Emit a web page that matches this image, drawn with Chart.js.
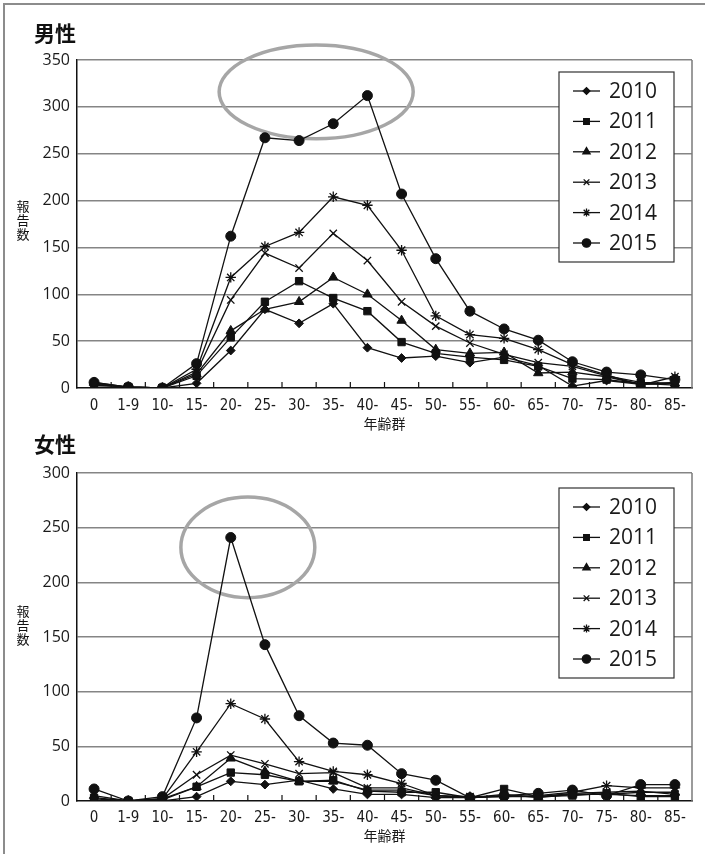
<!DOCTYPE html>
<html><head><meta charset="utf-8">
<script src="https://cdn.jsdelivr.net/npm/chart.js@4.4.1/dist/chart.umd.min.js"></script>
<style>
body{margin:0;background:#fff;}
#wrap{position:relative;width:705px;height:854px;overflow:hidden;background:#fff;}
#frame{position:absolute;left:3px;top:3px;width:760px;height:900px;border-left:2px solid #8c8c8c;border-top:2px solid #8c8c8c;}
.ttl{position:absolute;font-family:"Noto Sans CJK JP",sans-serif;font-weight:700;font-size:21px;line-height:24px;color:#111;}
.ylab{position:absolute;font-family:"Noto Sans CJK JP",sans-serif;font-size:13px;line-height:14px;width:14px;word-break:break-all;text-align:center;color:#111;}
canvas{position:absolute;left:0;}
</style></head>
<body>
<div id="wrap">
<div id="frame"></div>
<canvas id="maleChart" width="705" height="432" style="top:0px"></canvas>
<canvas id="femaleChart" width="705" height="422" style="top:432px"></canvas>
<div class="ttl" style="left:34px;top:20px">男性</div>
<div class="ttl" style="left:34px;top:431px">女性</div>
<div class="ylab" style="left:16px;top:199px">報告数</div>
<div class="ylab" style="left:16px;top:604px">報告数</div>
</div>
<script>
// ---- data ----
const categories = ['0','1-9','10-','15-','20-','25-','30-','35-','40-','45-','50-','55-','60-','65-','70-','75-','80-','85-'];
const years = ['2010','2011','2012','2013','2014','2015'];
const xAxisTitle = '年齢群';

const male2010 = [5,1,0,5,40,84,69,90,43,32,34,27,33,24,2,8,4,6];
const male2011 = [4,1,0,13,54,92,114,96,82,49,37,33,30,23,10,9,5,3];
const male2012 = [6,1,0,15,61,84,92,118,100,72,41,37,38,16,17,12,4,5];
const male2013 = [1,1,0,17,94,144,128,165,136,92,66,48,36,27,23,13,6,5];
const male2014 = [3,1,0,20,118,151,166,204,195,147,77,57,53,41,25,14,3,12];
const male2015 = [6,1,0,26,162,267,264,282,312,207,138,82,63,51,28,17,14,9];

const female2010 = [2,0,0,4,18,15,19,11,6,6,3,3,6,3,6,6,5,5];
const female2011 = [3,0,1,13,26,24,18,19,9,8,8,3,11,4,5,7,4,4];
const female2012 = [5,0,2,13,39,27,18,18,10,10,5,3,5,4,6,6,8,8];
const female2013 = [0,0,2,24,42,34,25,26,12,12,5,3,4,4,7,8,9,6];
const female2014 = [0,0,2,45,89,75,36,27,24,16,5,4,4,5,8,14,12,12];
const female2015 = [11,0,4,76,241,143,78,53,51,25,19,3,5,7,10,5,15,15];

const maleTicksMax = 350;
const femaleTicksMax = 300;
const tickStep = 50;

// highlight ellipses (data units)
const maleHighlight = {cx: 6.5, cy: 316, rx: 2.84, ry: 50};
const femaleHighlight = {cx: 4.5, cy: 232, rx: 1.96, ry: 46};

// ---- styles ----
const pointStyles = ['rectRot','rect','triangle','crossRot','star','circle'];
const pointRadii = [4.4,5.2,5.4,5.2,5.2,5];
const legendRadii = [3.4,4,4.2,4,4,4.2];

function buildDatasets(series){
  return series.map((vals,i)=>({
    label: years[i],
    data: vals,
    borderColor:'#111',
    backgroundColor:'#111',
    borderWidth:1.3,
    pointStyle: pointStyles[i],
    pointRadius: pointRadii[i],
    pointBorderWidth: (pointStyles[i]==='crossRot'||pointStyles[i]==='star')?1.3:1,
    pointBorderColor:'#111',
    pointBackgroundColor:'#111',
    tension:0,
    fill:false
  }));
}

const decorPlugin = {
  id:'decor',
  beforeDatasetsDraw(chart, args, opts){
    const {ctx, chartArea:a} = chart;
    const xs = chart.scales.x, ys = chart.scales.y;
    ctx.save();
    ctx.strokeStyle = '#7a7a7a'; ctx.lineWidth = 1.5;
    ctx.beginPath(); ctx.moveTo(a.right, a.top); ctx.lineTo(a.right, a.bottom); ctx.stroke();
    ctx.strokeStyle = '#111'; ctx.lineWidth = 1.2;
    const n = categories.length;
    for(let i=1;i<n;i++){
      const x = (xs.getPixelForValue(i-1)+xs.getPixelForValue(i))/2;
      ctx.beginPath(); ctx.moveTo(x, a.bottom); ctx.lineTo(x, a.bottom-6); ctx.stroke();
    }
    const h = opts.highlight;
    const cx = xs.getPixelForValue(h.cx), cy = ys.getPixelForValue(h.cy);
    const rx = Math.abs(xs.getPixelForValue(h.cx + h.rx) - cx);
    const ry = Math.abs(ys.getPixelForValue(h.cy + h.ry) - cy);
    ctx.strokeStyle = '#a6a6a6'; ctx.lineWidth = 3.5;
    ctx.beginPath(); ctx.ellipse(cx, cy, rx, ry, 0, 0, Math.PI*2); ctx.stroke();
    ctx.restore();
  },
  afterDatasetsDraw(chart, args, opts){
    const {ctx, chartArea:a} = chart;
    ctx.save();
    const bx = a.right - 133, by = a.top + opts.legendTop, bw = 115, bh = 190;
    ctx.fillStyle = '#fff';
    ctx.fillRect(bx, by, bw, bh);
    ctx.strokeStyle = '#333'; ctx.lineWidth = 1.2;
    ctx.strokeRect(bx, by, bw, bh);
    ctx.font = '21px "Open Sans", "Noto Sans", sans-serif';
    ctx.textBaseline = 'middle'; ctx.textAlign = 'left';
    chart.data.datasets.forEach((ds,i)=>{
      const y = by + 19 + i*30.4;
      ctx.strokeStyle = '#111'; ctx.fillStyle = '#111'; ctx.lineWidth = 1.3;
      ctx.beginPath(); ctx.moveTo(bx+14, y); ctx.lineTo(bx+41, y); ctx.stroke();
      Chart.helpers.drawPoint(ctx, {pointStyle: ds.pointStyle, radius: legendRadii[i], rotation:0, borderWidth:1}, bx+27.5, y);
      ctx.fillStyle = '#1a1a1a';
      ctx.fillText(ds.label, bx+50, y+1);
    });
    ctx.restore();
  }
};

function makeChart(id, series, yMax, cfg){
  return new Chart(document.getElementById(id), {
    type:'line',
    data:{labels:categories, datasets:buildDatasets(series)},
    options:{
      responsive:false,
      animation:false,
      devicePixelRatio:1,
      layout:{padding:{left:0,right:13,top:cfg.padTop,bottom:0}},
      plugins:{
        legend:{display:false},
        tooltip:{enabled:false},
        decor:{highlight:cfg.highlight, legendTop:cfg.legendTop}
      },
      scales:{
        x:{
          offset:true,
          grid:{display:true, drawOnChartArea:false, drawTicks:false, offset:true},
          border:{display:true, color:'#111', width:1.5},
          ticks:{padding:cfg.xPad, color:'#1a1a1a', font:{family:'"DejaVu Sans Condensed", "Noto Sans", sans-serif', size:15}, maxRotation:0, autoSkip:false},
          title:{display:true, text:xAxisTitle, color:'#1a1a1a', font:{family:'"Noto Sans CJK JP", sans-serif', size:14}, padding:{top:0,bottom:cfg.titlePadBottom}},
          afterFit(s){ s.height = cfg.xHeight; }
        },
        y:{
          min:0, max:yMax,
          ticks:{stepSize:tickStep, padding:7, color:'#1a1a1a', font:{family:'"Open Sans", "Noto Sans", sans-serif', size:16}},
          grid:{color:(c)=> c.tick && c.tick.value===0 ? 'rgba(0,0,0,0)' : '#858585', lineWidth:1.5, drawTicks:false},
          border:{display:true, color:'#111', width:1.5},
          afterFit(s){ s.width = 77; }
        }
      }
    },
    plugins:[decorPlugin]
  });
}

makeChart('maleChart', [male2010,male2011,male2012,male2013,male2014,male2015], maleTicksMax,
  {padTop:60, xHeight:44, xPad:9, titlePadBottom:0, highlight:maleHighlight, legendTop:12});
makeChart('femaleChart', [female2010,female2011,female2012,female2013,female2014,female2015], femaleTicksMax,
  {padTop:41, xHeight:53, xPad:8, titlePadBottom:10, highlight:femaleHighlight, legendTop:15});
</script>
</body></html>
